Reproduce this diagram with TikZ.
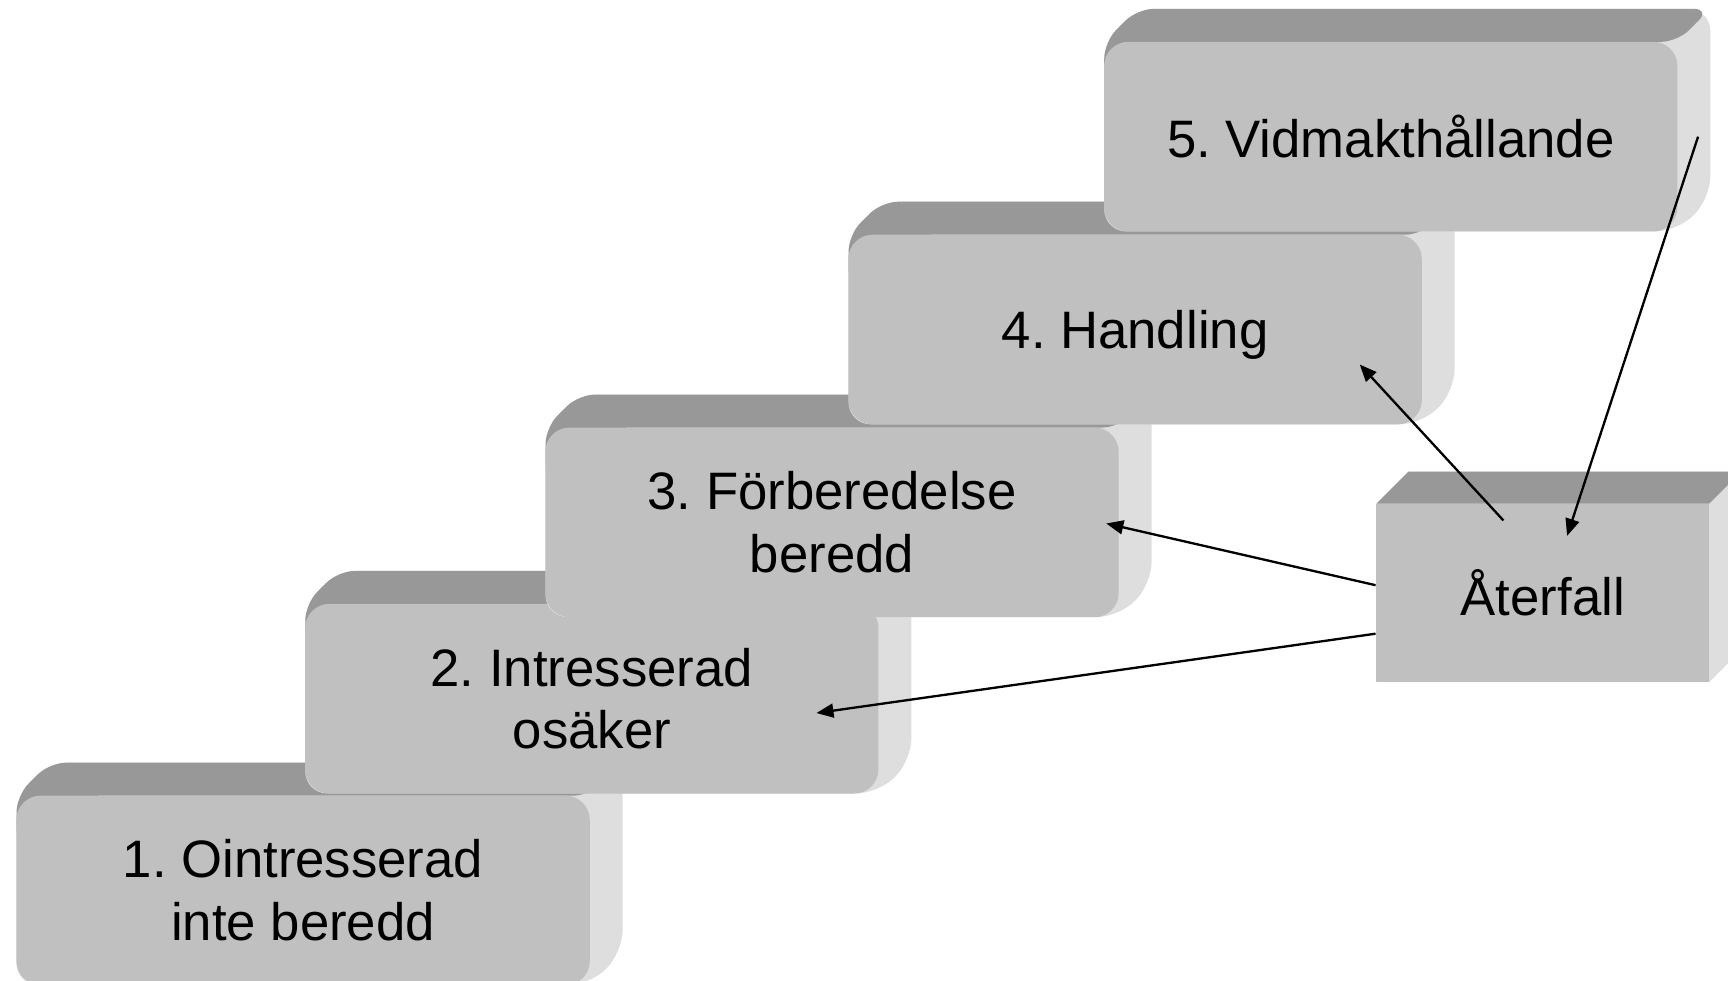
\documentclass[tikz,border=0pt]{standalone}
\usepackage{fontspec}
\setmainfont{Liberation Sans}
\frenchspacing
\usetikzlibrary{arrows.meta,calc}
\definecolor{frontgray}{HTML}{C0C0C0}
\definecolor{topgray}{HTML}{989898}
\definecolor{sidegray}{HTML}{DEDEDE}
\tikzset{
  frontface/.style={fill=frontgray, rounded corners=0.22cm, minimum width=5.2cm, minimum height=1.72cm,
    inner sep=0pt, align=center, font=\fontsize{13.6}{16.2}\selectfont},
  flatface/.style={fill=frontgray, minimum width=3.02cm, minimum height=1.62cm,
    inner sep=0pt, align=center, font=\fontsize{13.6}{16.2}\selectfont},
  sideface/.style={fill=sidegray},
  topface/.style={fill=topgray},
  arrowline/.style={draw=black, line width=0.6pt, -{Triangle[length=4.4pt,width=3.6pt]}}
}
\newcommand\stairblock[4]{%
  \begin{scope}[shift={(#2,#3)}]
    \fill[sideface, rounded corners=0.2cm] (-260,86) -- (-260,-86) -- (-230,-116) -- (290,-116) -- (290,56) -- (260,86) -- cycle;
    \fill[topface, rounded corners=0.15cm] (-260,-40) -- (-260,-86) -- (-230,-116) -- (290,-116) -- (260,-86) -- (-200,-86) -- (-200,-40) -- cycle;
  \end{scope}
  \node[frontface] (#1) at (#2,#3) {#4};
}
\begin{document}
\begin{tikzpicture}[x=0.01cm, y=-0.01cm]
\useasboundingbox (0,0) rectangle (1568,890);
\clip (0,0) rectangle (1568,890);
\stairblock{s1}{275}{808}{1. Ointresserad\\inte beredd}
\stairblock{s2}{537}{634}{2. Intresserad\\osäker}
\stairblock{s3}{755}{474}{3. Förberedelse\\beredd}
\stairblock{s4}{1030}{299}{4. Handlin\smash{g}}
\stairblock{s5}{1262}{124}{5. Vidmakthållande}
\begin{scope}[shift={(1400,538)}]
  \fill[sideface] (-151,81) -- (-151,-81) -- (-122,-110) -- (180,-110) -- (180,52) -- (151,81) -- cycle;
  \fill[topface] (-151,-81) -- (-122,-110) -- (180,-110) -- (151,-81) -- cycle;
\end{scope}
\node[flatface] (ater) at (1400,538) {Återfall};
\draw[arrowline] ($(ater.north west)+(116,16)$) -- ($(s4.south east)+(-57,-55)$);
\draw[arrowline] ($(s5.east)+(18,0)$) -- ($(ater.north)+(22,30)$);
\draw[arrowline] ($(ater.west)+(0,-7)$) -- ($(s3.east)+(-12,1)$);
\draw[arrowline] ($(ater.west)+(0,37)$) -- ($(s2.east)+(-57,13)$);
\end{tikzpicture}
\end{document}
